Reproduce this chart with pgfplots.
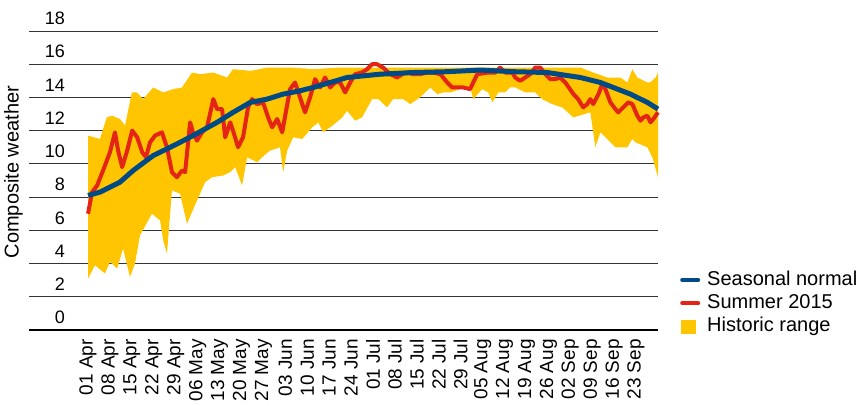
\documentclass[border=0pt]{standalone}
\usepackage{fontspec}
\setmainfont{Liberation Sans}
\usepackage{pgfplots}
\pgfplotsset{compat=1.18}
\usepgfplotslibrary{fillbetween}

\definecolor{histrange}{HTML}{FEC500}
\definecolor{summer}{HTML}{E42516}
\definecolor{normal}{HTML}{004B85}

% day 0 = 01 Apr
\pgfplotstableread{
d v
0 3.1
2.2 3.9
5.4 3.4
7 4.1
9.3 3.7
11.2 4.9
13.4 3.2
15 4.0
16.6 5.7
20.4 7.0
23 6.6
24 5.4
25.2 4.6
26.8 8.4
29.4 8.2
31.6 6.4
34.8 7.8
37.4 8.9
39.6 9.2
43.1 9.3
45.4 9.5
47 9.8
49.2 8.7
50.8 10.4
54 10.1
55.6 10.4
58.1 10.8
61.3 11.0
62.3 9.5
63.6 10.8
65.5 11.6
68.4 11.5
71.6 12.2
73.5 12.5
75.1 11.9
78 12.3
81.2 12.8
82.7 13.2
85.3 12.6
87.5 12.8
90.7 13.9
92.7 13.9
95.5 13.4
97.4 13.9
100.6 13.9
102.9 13.6
106 14.0
109.3 14.6
111.5 14.2
113.4 14.3
115.7 14.3
118.8 14.5
122 14.6
123 13.9
125.9 14.5
127.8 14.3
129.1 13.7
131 14.3
133.2 14.3
134.8 14.6
136.4 14.6
139.6 14.3
142.8 14.3
145 13.9
148.2 13.6
151.4 13.4
155 12.8
160.4 13.1
162 11.0
163.6 11.9
166.8 11.3
168.4 11.0
172.2 11.0
173.8 11.5
174.8 11.3
178.6 11.0
180.2 10.4
182 9.2
}\lowtab

\pgfplotstableread{
d v
0 11.7
3.8 11.5
6 12.8
7.7 12.9
10.2 12.7
11.8 12.3
14 14.3
15.6 14.3
17.6 13.9
20.8 14.6
24 14.3
27.2 14.5
30 14.6
33.2 15.5
35.8 15.4
40 15.5
44.4 15.2
46.3 15.7
52 15.6
57.2 15.8
65 15.8
72 15.7
80 15.8
100 15.8
120 15.8
140 15.8
150 15.8
157.2 15.8
161.3 15.5
165.8 15.2
170 15.2
172.2 14.9
173.8 15.7
175.4 15.2
178.6 14.9
179.6 14.9
181.2 15.2
182 15.5
}\uptab

\pgfplotstableread{
d v
0 8.1
3.8 8.3
10.2 8.9
14.4 9.6
20.8 10.5
28.4 11.2
33.5 11.7
41.2 12.5
46.3 13.1
51.8 13.7
57.2 13.9
62.3 14.2
67.7 14.4
71.9 14.6
82.7 15.2
93.3 15.4
103.8 15.5
114.7 15.55
125.2 15.65
135.8 15.55
146.6 15.5
157.2 15.2
163.6 14.9
167.7 14.6
173.2 14.2
178.6 13.7
182 13.3
}\normaltab

\pgfplotstableread{
d v
0 7.0
1.3 8.3
2.9 8.7
4.8 9.6
7 10.7
8.6 11.9
9.6 10.8
10.9 9.8
12.5 10.8
14.1 12.0
15.7 11.6
17.3 10.7
18.5 10.4
19.8 11.3
21.4 11.7
23.6 11.9
25.2 11.0
26.8 9.5
28.4 9.2
30 9.6
31 9.5
32.6 12.5
33.5 11.9
34.8 11.4
36.4 11.9
38 12.2
40 13.9
41.2 13.3
42.8 13.3
43.8 11.6
45.4 12.5
46.3 12.0
47.9 11.0
49.5 11.6
51.1 13.4
52.4 13.9
54 13.6
55.9 13.7
57.5 12.8
58.8 12.2
60.4 12.7
62 11.9
64.5 14.5
66.1 14.9
67.7 14.0
69.3 13.1
70.9 14.0
72.5 15.1
74.1 14.6
75.7 15.2
77.3 14.6
78.9 14.9
80.5 14.9
82.1 14.3
83.7 14.9
85.3 15.4
87.5 15.5
89.1 15.7
90.7 16.0
92.3 16.0
94.2 15.8
96.5 15.4
98.7 15.2
100.3 15.4
101.9 15.5
103.8 15.4
106 15.4
108.3 15.5
110.2 15.5
112.5 15.4
114.7 14.9
116.3 14.6
117.9 14.6
119.8 14.6
122 14.5
123 14.9
124.3 15.4
127.8 15.5
130 15.5
131.6 15.8
133.2 15.5
135.5 15.5
136.4 15.2
138 15.0
139.6 15.2
141.2 15.4
142.8 15.8
144.4 15.8
146 15.4
147.6 15.1
149.2 15.1
150.8 15.2
152.4 14.9
155 14.2
156.5 13.9
158.1 13.4
159.4 13.6
160.4 13.9
161.3 13.6
163 14.2
164.2 14.8
165.2 14.5
166.8 13.7
168.4 13.3
169.3 13.1
170.9 13.4
172.5 13.7
173.8 13.6
175.4 12.9
176.4 12.6
177.3 12.8
178.6 12.9
179.6 12.5
180.5 12.7
182 13.1
}\summertab

\begin{document}
\begin{tikzpicture}
\begin{axis}[
    at={(0pt,0pt)}, anchor=south west,
    scale only axis, width=629pt, height=299pt,
    xmin=-18.85, xmax=182, ymin=0, ymax=18,
    ytick={0,2,...,18},
    xtick={0,7,...,175},
    xticklabels={01 Apr,08 Apr,15 Apr,22 Apr,29 Apr,06 May,13 May,20 May,27 May,03 Jun,10 Jun,17 Jun,24 Jun,01 Jul,08 Jul,15 Jul,22 Jul,29 Jul,05 Aug,12 Aug,19 Aug,26 Aug,02 Sep,09 Sep,16 Sep,23 Sep},
    axis line style={draw=none},
    major tick length=0pt,
    ymajorgrids, grid style={black!80, line width=0.9pt},
    /pgf/number format/assume math mode=true,
    yticklabel style={font=\fontsize{18}{18}\selectfont, anchor=east, inner sep=0pt, xshift=36pt, yshift=12.5pt},
    xticklabel style={font=\fontsize{19}{19}\selectfont, yshift=-9pt, rotate=90, anchor=east, inner sep=0pt},
    ylabel={Composite weather},
    ylabel style={font=\fontsize{20}{20}\selectfont, at={(rel axis cs:-0.0095,0.528)}, anchor=south, inner sep=0pt},
    legend style={draw=none, fill=none, at={(rel axis cs:1,0)}, anchor=south west, xshift=22pt, yshift=-6pt,
        font=\fontsize{20}{20}\selectfont, inner sep=0pt, row sep=4.8pt,
        nodes={inner sep=0pt, text height=14.5pt, text depth=4pt},
        /tikz/every odd column/.append style={column sep=7pt}},
    legend cell align=left,
    reverse legend,
    clip=false,
]
\addplot[draw=none, name path=up, forget plot] table[x=d, y=v] {\uptab};
\addplot[draw=none, name path=lo, forget plot] table[x=d, y=v] {\lowtab};
\addplot[fill=histrange, draw=none,
    legend image code/.code={\fill[histrange] (0pt,-7pt) rectangle (15pt,7pt);}]
    fill between[of=up and lo];
\addlegendentry{Historic range}
\addplot[summer, line width=4pt, line join=round,
    legend image code/.code={\draw[summer, line width=4pt, line cap=round] (1pt,0pt) -- (17pt,0pt);}]
    table[x=d, y=v] {\summertab};
\addlegendentry{Summer 2015}
\addplot[normal, line width=5pt, line join=round,
    legend image code/.code={\draw[normal, line width=4pt, line cap=round] (1pt,0pt) -- (17pt,0pt);}]
    table[x=d, y=v] {\normaltab};
\addlegendentry{Seasonal normal}
\end{axis}
% bottom line of the chart
\draw[black, line width=2pt] (0pt,0pt) -- (629pt,0pt);
\pgfresetboundingbox
\path[use as bounding box] (-29pt,-76pt) rectangle (833pt,330pt);
\end{tikzpicture}
\end{document}
